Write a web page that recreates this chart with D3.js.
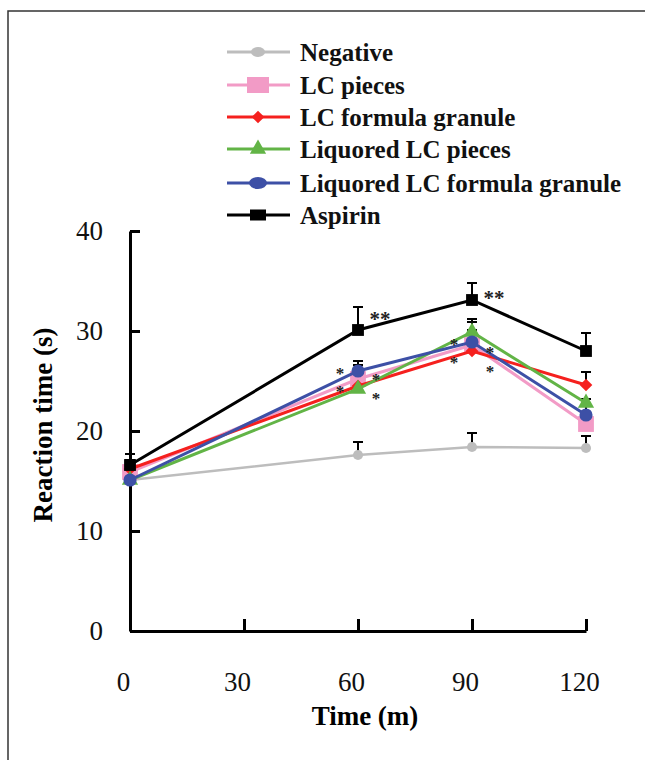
<!DOCTYPE html>
<html>
<head>
<meta charset="utf-8">
<script src="https://cdn.jsdelivr.net/npm/d3@7"></script>
<style>
  body { margin: 0; background: #fff; }
  svg { display: block; }
</style>
</head>
<body>
<div id="chart"></div>
<script>
// time points (min)
const times = [0, 30, 60, 90, 120];
const dataTimes = [0, 60, 90, 120];
const yTicks = [0, 10, 20, 30, 40];

const seriesNames = ["Negative", "LC pieces", "LC formula granule", "Liquored LC pieces", "Liquored LC formula granule", "Aspirin"];
const seriesColors = ["#bdbdbd", "#f29bc6", "#f5201e", "#62b446", "#3d50a6", "#000000"];
const seriesShapes = ["circle", "square", "diamond", "triangle", "circle", "square"];

// mean reaction time (s)
const negative   = [15.1, 17.6, 18.4, 18.3];
const lcPieces   = [15.9, 25.2, 28.6, 20.7];
const lcGranule  = [16.2, 24.5, 28.0, 24.6];
const liqPieces  = [15.1, 24.2, 29.9, 22.8];
const liqGranule = [15.1, 26.0, 28.9, 21.6];
const aspirin    = [16.6, 30.1, 33.1, 28.0];

// upper error (s)
const negativeErr   = [0.5, 1.3, 1.4, 1.2];
const lcPiecesErr   = [0.6, 1.4, 1.5, 1.0];
const lcGranuleErr  = [0.9, 1.0, 1.2, 1.3];
const liqPiecesErr  = [0.6, 0.9, 1.3, 0.4];
const liqGranuleErr = [0.7, 1.0, 2.0, 1.2];
const aspirinErr    = [1.1, 2.3, 1.7, 1.8];

// significance marks: time, level, side
const starTimes  = [60, 60, 60, 60, 60, 90, 90, 90, 90, 90];
const starLevels = [31.6, 26.1, 24.3, 25.5, 23.6, 33.7, 29.0, 27.2, 28.2, 26.3];
const starLabels = ["**", "*", "*", "*", "*", "**", "*", "*", "*", "*"];
const starSide   = [1, -1, -1, 1, 1, 1, -1, -1, 1, 1];

const allValues = [negative, lcPieces, lcGranule, liqPieces, liqGranule, aspirin];
const allErrors = [negativeErr, lcPiecesErr, lcGranuleErr, liqPiecesErr, liqGranuleErr, aspirinErr];

const width = 645, height = 760;

const svg = d3.select("#chart").append("svg")
    .attr("width", width)
    .attr("height", height);

// frame
svg.append("rect")
    .attr("x", 8).attr("y", 11)
    .attr("width", 700).attr("height", 800)
    .attr("fill", "#fff")
    .attr("stroke", "#333")
    .attr("stroke-width", 1.5);

const x = d3.scaleLinear().domain([0, 120]).range([130, 586]);
const y = d3.scaleLinear().domain([0, 40]).range([631, 231]);

const serif = "'Liberation Serif', 'Times New Roman', serif";

// y axis
const yAxis = svg.append("g")
    .attr("transform", `translate(${x(0)},0)`)
    .call(d3.axisLeft(y).tickValues(yTicks).tickSize(-10).tickSizeOuter(0).tickPadding(27));
yAxis.select(".domain").attr("stroke-width", 3);
yAxis.selectAll(".tick line").attr("stroke-width", 3);
yAxis.selectAll("text")
    .style("font-family", serif)
    .style("font-size", "27px")
    .attr("fill", "#111");

// x axis
const xAxis = svg.append("g")
    .attr("transform", `translate(0,${y(0)})`)
    .call(d3.axisBottom(x).tickValues(times).tickSize(-12).tickSizeOuter(0).tickPadding(41));
xAxis.select(".domain").attr("stroke-width", 3);
xAxis.selectAll(".tick line").attr("stroke-width", 3);
xAxis.selectAll("text")
    .attr("dx", -7)
    .style("font-family", serif)
    .style("font-size", "27px")
    .attr("fill", "#111");

// axis titles
svg.append("text")
    .attr("transform", "translate(52,425) rotate(-90)")
    .attr("text-anchor", "middle")
    .style("font-family", serif)
    .style("font-weight", "bold")
    .style("font-size", "27px")
    .text("Reaction time (s)");

svg.append("text")
    .attr("x", 365).attr("y", 725)
    .attr("text-anchor", "middle")
    .style("font-family", serif)
    .style("font-weight", "bold")
    .style("font-size", "27px")
    .text("Time (m)");

// marker generator
function markerPath(shape, i) {
    if (shape === "circle") return d3.symbol(d3.symbolCircle, i === 0 ? 80 : 135)();
    if (shape === "square") return d3.symbol(d3.symbolSquare, i === 1 ? 250 : 140)();
    if (shape === "diamond") return d3.symbol(d3.symbolSquare, 80)();
    if (shape === "triangle") return d3.symbol(d3.symbolTriangle, 115)();
}

const line = d3.line()
    .x((d, j) => x(dataTimes[j]))
    .y(d => y(d));

// error bars (drawn beneath lines)
allValues.forEach((vals, i) => {
    const errs = allErrors[i];
    const g = svg.append("g");
    vals.forEach((v, j) => {
        const cx = x(dataTimes[j]);
        g.append("line")
            .attr("x1", cx).attr("x2", cx)
            .attr("y1", y(v)).attr("y2", y(v + errs[j]))
            .attr("stroke", "#000").attr("stroke-width", 2);
        g.append("line")
            .attr("x1", cx - 5).attr("x2", cx + 5)
            .attr("y1", y(v + errs[j])).attr("y2", y(v + errs[j]))
            .attr("stroke", "#000").attr("stroke-width", 2);
    });
});

// series lines + markers
allValues.forEach((vals, i) => {
    svg.append("path")
        .datum(vals)
        .attr("d", line)
        .attr("fill", "none")
        .attr("stroke", seriesColors[i])
        .attr("stroke-width", i === 0 ? 2.5 : 3);

    svg.selectAll(".m" + i)
        .data(vals)
        .enter()
        .append("path")
        .attr("class", "m" + i)
        .attr("d", markerPath(seriesShapes[i], i))
        .attr("transform", (d, j) => `translate(${x(dataTimes[j])},${y(d)})` + (seriesShapes[i] === "diamond" ? " rotate(45)" : ""))
        .attr("fill", seriesColors[i]);
});

// significance stars
svg.selectAll(".star")
    .data(starLabels)
    .enter()
    .append("text")
    .attr("class", "star")
    .attr("x", (d, k) => x(starTimes[k]) + starSide[k] * (d === "**" ? 22 : 18))
    .attr("y", (d, k) => y(starLevels[k]))
    .attr("dy", "0.5em")
    .attr("text-anchor", "middle")
    .style("font-family", serif)
    .style("font-weight", "bold")
    .style("font-size", d => d === "**" ? "21px" : "17px")
    .attr("fill", "#222")
    .text(d => d);

// legend
const legendY = [52, 85, 117, 149, 183, 215];
const legend = svg.append("g");
seriesNames.forEach((name, i) => {
    const ly = legendY[i];
    legend.append("line")
        .attr("x1", 227).attr("x2", 290)
        .attr("y1", ly).attr("y2", ly)
        .attr("stroke", seriesColors[i])
        .attr("stroke-width", 3);
    let mk;
    if (seriesShapes[i] === "circle") {
        mk = legend.append("ellipse").attr("cx", 258).attr("cy", ly)
            .attr("rx", i === 0 ? 7 : 9).attr("ry", i === 0 ? 5 : 6);
    } else if (seriesShapes[i] === "square") {
        const w = i === 1 ? 22 : 16, h = i === 1 ? 16 : 11;
        mk = legend.append("rect").attr("x", 258 - w / 2).attr("y", ly - h / 2)
            .attr("width", w).attr("height", h);
    } else {
        mk = legend.append("path")
            .attr("d", markerPath(seriesShapes[i], i))
            .attr("transform", `translate(258,${ly})` + (seriesShapes[i] === "diamond" ? " rotate(45)" : ""));
    }
    mk.attr("fill", seriesColors[i]);
    legend.append("text")
        .attr("x", 300).attr("y", ly + 9)
        .style("font-family", serif)
        .style("font-weight", "bold")
        .style("font-size", "25px")
        .attr("fill", "#111")
        .text(name);
});
</script>
</body>
</html>
